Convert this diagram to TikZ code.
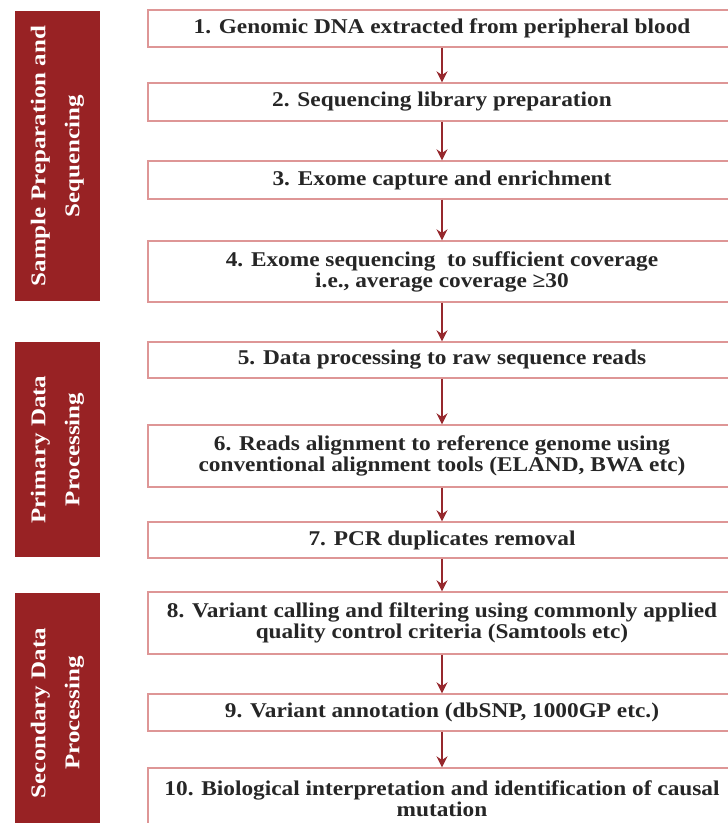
\documentclass[tikz,border=0pt]{standalone}
\usepackage{fontspec}
\setmainfont{Liberation Serif}
\usepackage{tikz}
\usetikzlibrary{arrows.meta, positioning}

\definecolor{panelred}{RGB}{152,34,36}
\definecolor{arrowred}{RGB}{150,40,45}
\definecolor{boxline}{RGB}{222,150,150}

\begin{document}
\begin{tikzpicture}[
    x=1pt, y=-1pt,
    stepbox/.style={rectangle, draw=boxline, line width=1.3pt, fill=white, minimum width=588pt, align=center, inner sep=2pt, font=\fontsize{21}{21}\selectfont\bfseries\addfontfeature{FakeStretch=1.11}, text=black!85},
    panel/.style={rectangle, fill=panelred, align=center, rotate=90, inner sep=0pt, font=\fontsize{21}{34}\selectfont\bfseries\addfontfeature{FakeStretch=1.19}, text=white},
    arrow/.style={-{Stealth[length=11pt, width=11pt]}, line width=2.2pt, draw=arrowred}
]
\useasboundingbox (0,0) rectangle (728,823);

% Stage panels on the left
\node[panel, minimum width=290pt, minimum height=85pt] (sampleprep) at (57.5, 156) {Sample Preparation and\\Sequencing};
\node[panel, minimum width=215pt, minimum height=85pt] (primary) at (57.5, 449.5) {Primary Data\\Processing};
\node[panel, minimum width=240pt, minimum height=85pt] (secondary) at (57.5, 713) {Secondary Data\\Processing};

% Workflow steps
\node[stepbox, minimum height=37pt] (s1) at (442, 28.5) {1. Genomic DNA extracted from peripheral blood};
\node[stepbox, minimum height=38pt] (s2) at (442, 102) {2. Sequencing library preparation};
\node[stepbox, minimum height=38pt] (s3) at (442, 180) {3. Exome capture and enrichment};
\node[stepbox, minimum height=61pt] (s4) at (442, 271.5) {4. Exome sequencing\ \ to sufficient coverage\\i.e., average coverage ≥30};
\node[stepbox, minimum height=36pt] (s5) at (442, 360) {5. Data processing to raw sequence reads};
\node[stepbox, minimum height=62pt] (s6) at (442, 456) {6. Reads alignment to reference genome using\\conventional alignment tools (ELAND, BWA etc)};
\node[stepbox, minimum height=36pt] (s7) at (442, 540) {7. PCR duplicates removal};
\node[stepbox, minimum height=62pt] (s8) at (442, 623) {8. Variant calling and filtering using commonly applied\\quality control criteria (Samtools etc)};
\node[stepbox, minimum height=37pt] (s9) at (442, 712.5) {9. Variant annotation (dbSNP, 1000GP etc.)};
\node[stepbox, minimum height=62pt] (s10) at (442, 799) {10. Biological interpretation and identification of causal\\mutation};

% Arrows between steps
\draw[arrow] (s1.south) -- (s2.north);
\draw[arrow] (s2.south) -- (s3.north);
\draw[arrow] (s3.south) -- (s4.north);
\draw[arrow] (s4.south) -- (s5.north);
\draw[arrow] (s5.south) -- (s6.north);
\draw[arrow] (s6.south) -- (s7.north);
\draw[arrow] (s7.south) -- (s8.north);
\draw[arrow] (s8.south) -- (s9.north);
\draw[arrow] (s9.south) -- (s10.north);

\end{tikzpicture}
\end{document}
